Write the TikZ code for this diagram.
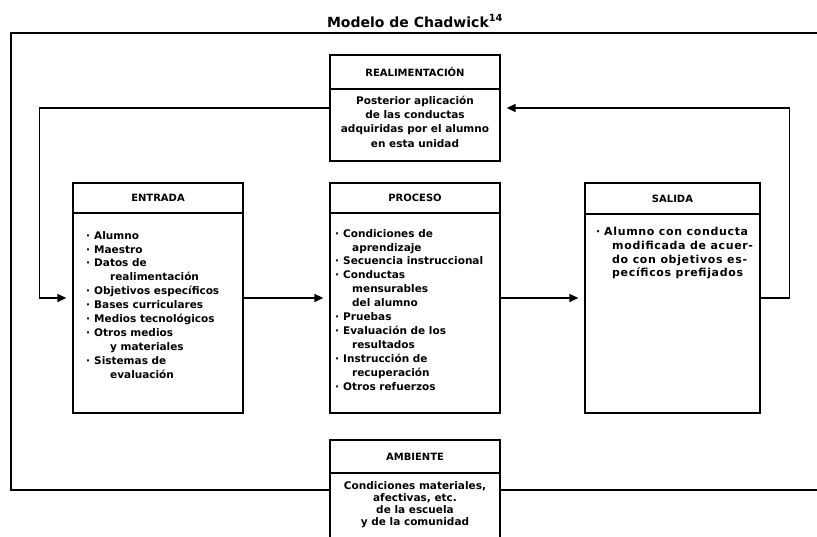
\documentclass[tikz,border=0pt]{standalone}
\usepackage{fontspec}
\setmainfont{DejaVu Sans}
\usetikzlibrary{arrows.meta}
% list bullet and hanging indent for continued lines
\newcommand\bul{\makebox[8pt][l]{·}}
\newcommand\cnt[1]{\hspace*{#1}}
\begin{document}
\begin{tikzpicture}[x=1pt,y=-1pt,
  boxst/.style={draw, line width=1.3pt, inner sep=0pt},
  hdrst/.style={draw, line width=1.3pt, inner sep=0pt, anchor=north west,
    font=\bfseries\fontsize{10}{12}\selectfont},
  listst/.style={align=left, inner sep=0pt, anchor=north west,
    font=\bfseries\fontsize{10.5}{13.9}\selectfont},
  ctrst/.style={align=center, inner sep=0pt, anchor=north,
    font=\bfseries\fontsize{10.5}{14.2}\selectfont},
  link/.style={line width=1.3pt},
  arr/.style={link, -{Triangle[length=9pt,width=8pt]}, shorten >=6pt}]

\useasboundingbox (0,0) rectangle (817,537);
\clip (0,0) rectangle (817,537);

% title
\node[font=\bfseries\fontsize{14}{16}\selectfont] (title) at (415,21)
  {Modelo de Chadwick\textsuperscript{14}};

% boxes
\node[boxst, minimum width=170pt, minimum height=106pt] (real) at (415,108) {};
\node[hdrst, minimum width=170pt, minimum height=34pt] (real-t) at (real.north west) {REALIMENTACIÓN};

\node[boxst, minimum width=170pt, minimum height=230pt] (entrada) at (158,298) {};
\node[hdrst, minimum width=170pt, minimum height=30pt] (entrada-t) at (entrada.north west) {ENTRADA};

\node[boxst, minimum width=170pt, minimum height=230pt] (proceso) at (415,298) {};
\node[hdrst, minimum width=170pt, minimum height=30pt] (proceso-t) at (proceso.north west) {PROCESO};

\node[boxst, minimum width=175pt, minimum height=230pt] (salida) at (672.5,298) {};
\node[hdrst, minimum width=175pt, minimum height=31pt] (salida-t) at (salida.north west) {SALIDA};

\node[boxst, minimum width=170pt, minimum height=120pt] (ambiente) at (415,500) {};
\node[hdrst, minimum width=170pt, minimum height=33pt] (ambiente-t) at (ambiente.north west) {AMBIENTE};

% box contents
\node[ctrst] (real-x) at (415,96)
  {Posterior aplicación\\de las conductas\\adquiridas por el alumno\\en esta unidad};

\node[listst] (entrada-x) at (86,231)
  {\bul Alumno\\
   \bul Maestro\\
   \bul Datos de\\
   \cnt{24pt}realimentación\\
   \bul Objetivos específicos\\
   \bul Bases curriculares\\
   \bul Medios tecnológicos\\
   \bul Otros medios\\
   \cnt{24pt}y materiales\\
   \bul Sistemas de\\
   \cnt{24pt}evaluación};

\node[listst] (proceso-x) at (335,229)
  {\bul Condiciones de\\
   \cnt{17pt}aprendizaje\\
   \bul Secuencia instruccional\\
   \bul Conductas\\
   \cnt{17pt}mensurables\\
   \cnt{17pt}del alumno\\
   \bul Pruebas\\
   \bul Evaluación de los\\
   \cnt{17pt}resultados\\
   \bul Instrucción de\\
   \cnt{17pt}recuperación\\
   \bul Otros refuerzos};

\node[listst, font=\bfseries\fontsize{11}{13.8}\selectfont\addfontfeature{LetterSpace=6}]
  (salida-x) at (596,227)
  {\bul Alumno con conducta\\
   \cnt{16pt}modificada de acuer-\\
   \cnt{16pt}do con objetivos es-\\
   \cnt{16pt}pecíficos prefijados};

\node[ctrst, font=\bfseries\fontsize{10.5}{12.2}\selectfont] (ambiente-x) at (415,481)
  {Condiciones materiales,\\afectivas, etc.\\de la escuela\\y de la comunidad};

% flow between the three stages
\draw[arr] (entrada.east) -- (proceso.west);
\draw[arr] (proceso.east) -- (salida.west);

% feedback loop
\draw[arr] (salida.east) -- ++(29,0) |- (real.east);
\draw[arr] (real.west) -- ++(-290,0) |- (entrada.west);

% surrounding frame closed by the environment box
\coordinate (fr-tl) at (11,33);
\coordinate (fr-tr) at (840,33);
\coordinate (fr-bl) at (11,490);
\coordinate (fr-br) at (840,490);
\draw[link] (ambiente.west |- fr-bl) -- (fr-bl) -- (fr-tl) -- (fr-tr);
\draw[link] (ambiente.east |- fr-br) -- (fr-br);

\end{tikzpicture}
\end{document}
